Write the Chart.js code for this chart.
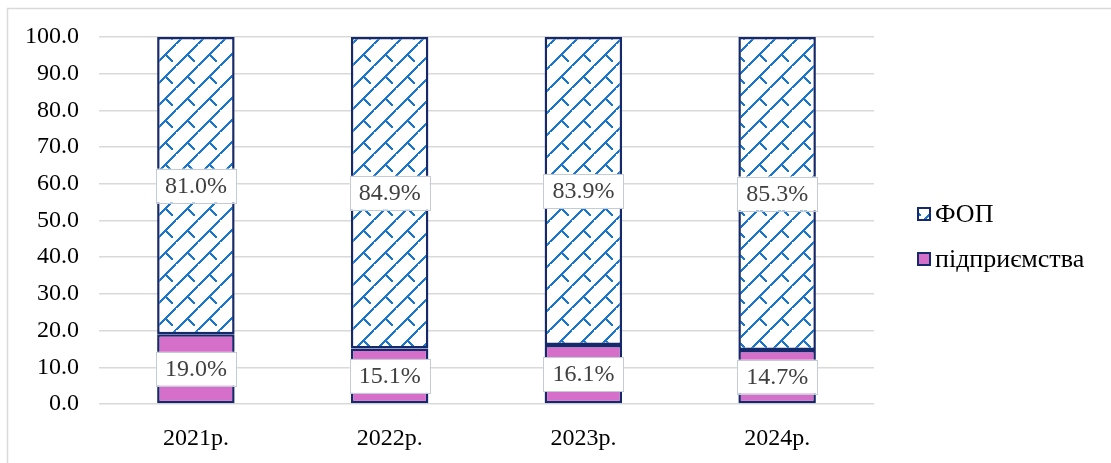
<!DOCTYPE html>
<html><head><meta charset="utf-8">
<script src="https://cdn.jsdelivr.net/npm/chart.js@4"></script>
<style>html,body{margin:0;padding:0;background:#fff;}#wrap{width:1111px;height:463px;position:relative;}</style>
</head><body><div id="wrap"><canvas id="c" width="1111" height="463"></canvas></div>
<script>
const categories = ['2021р.', '2022р.', '2023р.', '2024р.'];
const enterprises = [19.0, 15.1, 16.1, 14.7];
const fop = [81.0, 84.9, 83.9, 85.3];
const seriesNames = ['підприємства', 'ФОП'];

const FONT = '"Liberation Serif", "Times New Roman", serif';
const NAVY = '#16296b';
const PINK = '#d56fc9';
const BLUE = '#1a75cc';

function makePattern() {
  const t = document.createElement('canvas');
  const S = 22;
  t.width = S; t.height = S;
  const g = t.getContext('2d');
  g.fillStyle = '#fff'; g.fillRect(0, 0, S, S);
  g.fillStyle = BLUE;
  for (let i = 0; i < S; i += 1) {
    g.fillRect(i, S - 2 - i, 2, 2);
  }
  g.fillRect(S - 1, S - 1, 1, 1);
  for (let i = 0; i < 7; i++) {
    g.fillRect(11 + i, 10 + i, 2, 2);
  }
  return g.createPattern(t, 'repeat');
}
const pattern = makePattern();

const extras = {
  id: 'extras',
  beforeDraw(chart) {
    const ctx = chart.ctx;
    ctx.save();
    ctx.strokeStyle = '#d9d9d9';
    ctx.lineWidth = 1.5;
    ctx.strokeRect(7.5, 8.5, 1300, 600);
    ctx.restore();
  },
  afterDatasetsDraw(chart) {
    const ctx = chart.ctx;
    ctx.save();
    ctx.font = '24px ' + FONT;
    ctx.textAlign = 'center';
    ctx.textBaseline = 'middle';
    chart.data.datasets.forEach((ds, di) => {
      const meta = chart.getDatasetMeta(di);
      meta.data.forEach((bar, i) => {
        const v = ds.data[i];
        const txt = v.toFixed(1) + '%';
        const cy = (bar.y + bar.base) / 2;
        const w = 80, h = 34;
        ctx.fillStyle = '#fff';
        ctx.fillRect(bar.x - w / 2, cy - h / 2, w, h);
        ctx.strokeStyle = '#c3cad8';
        ctx.lineWidth = 1;
        ctx.strokeRect(Math.round(bar.x - w / 2) + 0.5, Math.round(cy - h / 2) + 0.5, w, h);
        ctx.fillStyle = '#404040';
        ctx.fillText(txt, bar.x, cy + 1);
      });
    });
    ctx.restore();
  },
  afterDraw(chart) {
    const ctx = chart.ctx;
    ctx.save();
    const items = [
      { name: seriesNames[1], fill: pattern, y: 214 },
      { name: seriesNames[0], fill: PINK, y: 259 }
    ];
    ctx.font = '26px ' + FONT;
    ctx.textBaseline = 'middle';
    ctx.textAlign = 'left';
    items.forEach(it => {
      ctx.fillStyle = it.fill;
      ctx.fillRect(918, it.y - 6, 12, 12);
      ctx.strokeStyle = NAVY;
      ctx.lineWidth = 2;
      ctx.strokeRect(918, it.y - 6, 12, 12);
      ctx.fillStyle = '#000';
      ctx.fillText(it.name, 935, it.y + 1);
    });
    ctx.restore();
  }
};

new Chart(document.getElementById('c'), {
  type: 'bar',
  data: {
    labels: categories,
    datasets: [
      { label: seriesNames[0], data: enterprises, backgroundColor: PINK, borderColor: NAVY, borderWidth: 2.5, borderSkipped: false, categoryPercentage: 0.8, barPercentage: 0.5 },
      { label: seriesNames[1], data: fop, backgroundColor: pattern, borderColor: NAVY, borderWidth: 2.5, borderSkipped: false, categoryPercentage: 0.8, barPercentage: 0.5 }
    ]
  },
  options: {
    responsive: false,
    animation: false,
    events: [],
    layout: { padding: { top: 37, right: 237, bottom: 0, left: 0 } },
    plugins: { legend: { display: false }, tooltip: { enabled: false } },
    scales: {
      x: {
        stacked: true,
        grid: { display: false, drawTicks: false },
        border: { display: false },
        ticks: { color: '#000', font: { family: FONT, size: 24 }, padding: 20 },
        afterFit(s) { s.height = 59; }
      },
      y: {
        stacked: true,
        min: 0, max: 100,
        ticks: { stepSize: 10, color: '#000', font: { family: FONT, size: 24 }, padding: 20, callback: v => v.toFixed(1) },
        grid: { color: '#d9d9d9', lineWidth: 1.5, drawTicks: false },
        border: { display: false },
        afterFit(s) { s.width = 99; }
      }
    }
  },
  plugins: [extras]
});
</script>
</body></html>
